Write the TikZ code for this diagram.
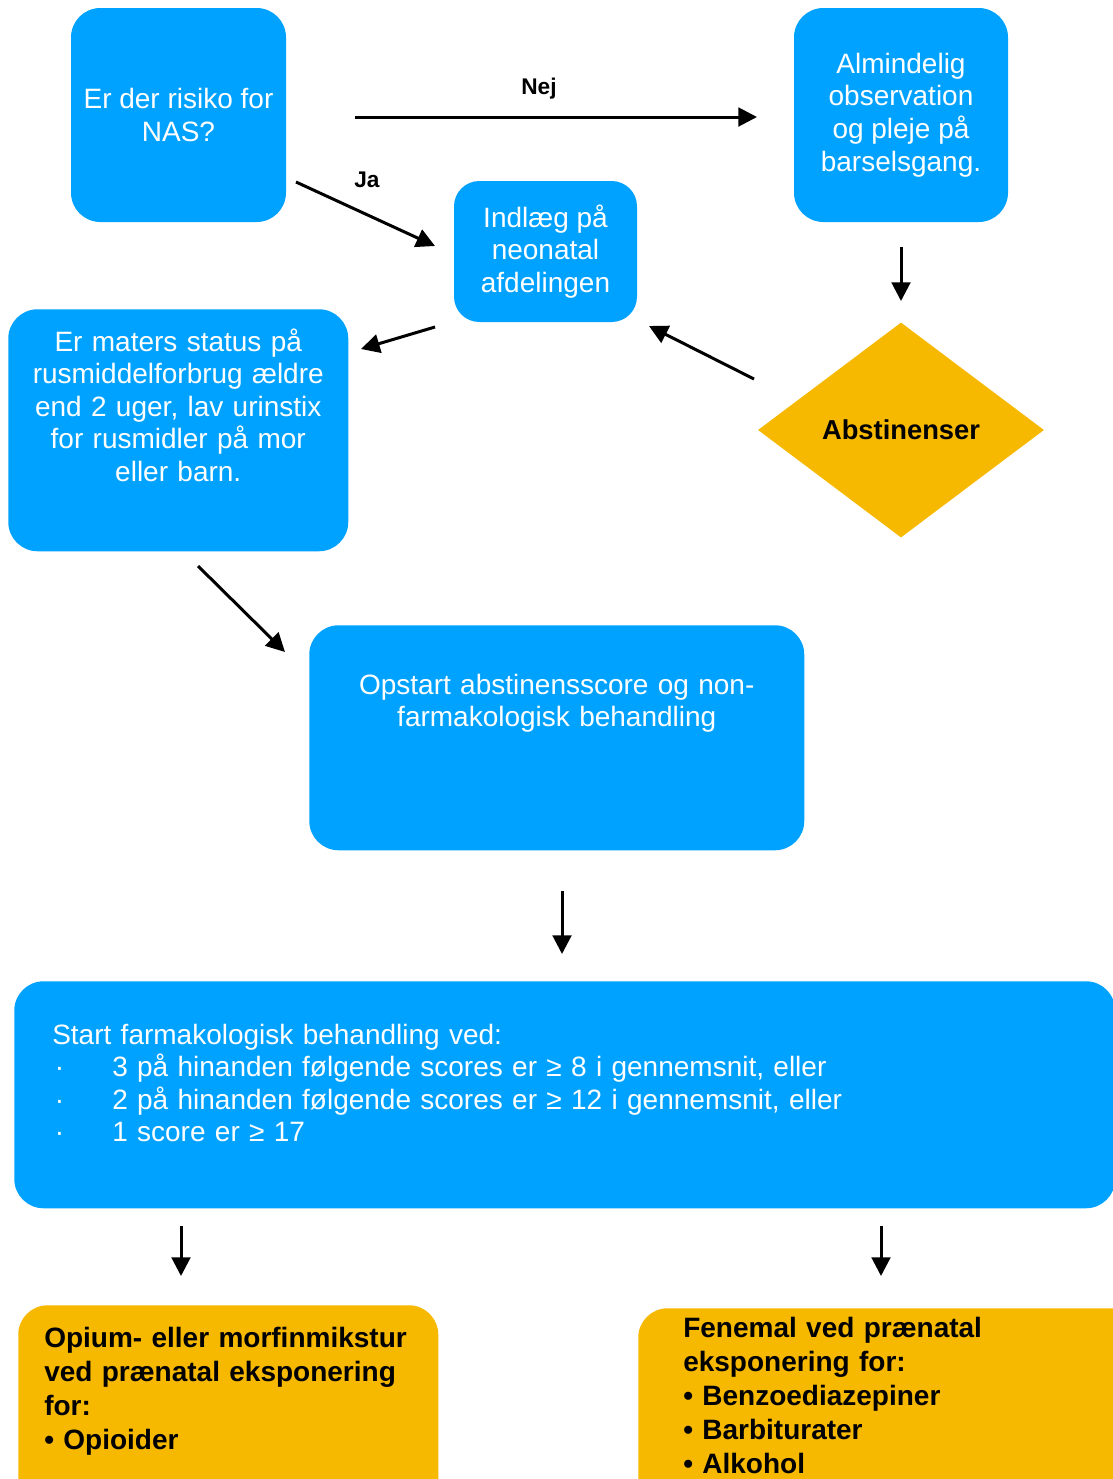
\documentclass[tikz,border=0pt]{standalone}
\usepackage{fontspec}
\setmainfont{Liberation Sans}
\usepackage{tikz}
\usetikzlibrary{shapes.geometric,arrows.meta}
\definecolor{nasblue}{HTML}{00A2FF}
\definecolor{nasorange}{HTML}{F6B900}

\begin{document}
\begin{tikzpicture}[x=0.75pt,y=-0.75pt,
    bluebox/.style={fill=nasblue, text=white, rounded corners=22pt, inner sep=0pt, font=\fontsize{21}{24.4}\selectfont},
    orangebox/.style={fill=nasorange, text=black, rounded corners=22pt, inner sep=0pt, font=\fontsize{21}{25.5}\selectfont\bfseries},
    arr/.style={line width=2.25pt, -{Triangle[length=14pt,width=14pt]}},
    lbl/.style={font=\fontsize{17}{20}\selectfont\bfseries}]
    \clip (0,0) rectangle (1113,1479);

    % Draw boxes
    \node[bluebox, minimum width=161.25pt, minimum height=160.5pt, align=center] (nas) at (178.5,115) {Er der risiko for\\NAS?};
    \node[bluebox, minimum width=160.5pt, minimum height=160.5pt, align=center] (alm) at (901,115) {Almindelig\\observation\\og pleje på\\barselsgang.};
    \node[bluebox, rounded corners=19pt, minimum width=137.25pt, minimum height=105.75pt, align=center] (indl) at (545.5,251.5) {Indlæg på\\neonatal\\afdelingen};
    \node[diamond, aspect=1.33, fill=nasorange, inner sep=0pt, minimum width=214.5pt, minimum height=161.25pt, font=\fontsize{20.5}{24}\selectfont\bfseries] (abst) at (901,430) {Abstinenser};
    \node[bluebox, anchor=north west, text width=255pt, align=center, text height=31.5pt, text depth=150pt] (rus) at (8,309) {Er maters status på\\rusmiddelforbrug ældre\\end 2 uger, lav urinstix\\for rusmidler på mor\\eller barn.};
    \node[bluebox, anchor=north west, text width=371.25pt, align=center, text height=51.75pt, text depth=117pt] (opst) at (309,625) {Opstart abstinensscore og non-\\farmakologisk behandling};
    \node[bluebox, anchor=north west, inner xsep=28.5pt, text width=768.75pt, align=left, text height=47.25pt, text depth=123pt] (start) at (14,981) {Start farmakologisk behandling ved:\\
        \hspace*{2pt}\makebox[43pt][l]{·}3 på hinanden følgende scores er ≥ 8 i gennemsnit, eller\\
        \hspace*{2pt}\makebox[43pt][l]{·}2 på hinanden følgende scores er ≥ 12 i gennemsnit, eller\\
        \hspace*{2pt}\makebox[43pt][l]{·}1 score er ≥ 17};

    % Draw treatment boxes
    \node[orangebox, anchor=north west, inner xsep=19.5pt, text width=276pt, align=left, text height=31.5pt, text depth=130pt] (opium) at (18,1305) {Opium- eller morfinmikstur\\ved prænatal eksponering\\for:\\• Opioider};
    \node[orangebox, anchor=north west, inner xsep=33.75pt, text width=309pt, align=left, text height=21.75pt, text depth=140pt] (fenemal) at (638,1308) {Fenemal ved prænatal\\eksponering for:\\• Benzoediazepiner\\• Barbiturater\\• Alkohol};

    % Arrow ends
    \coordinate (nej1) at (355,117);  \coordinate (nej2) at (757,117);
    \coordinate (ja1) at (296,182);   \coordinate (ja2) at (435,246);
    \coordinate (ind1) at (435,327);  \coordinate (ind2) at (361,349);
    \coordinate (alm1) at (901,247);  \coordinate (alm2) at (901,301);
    \coordinate (abs1) at (754,379);  \coordinate (abs2) at (649,326);
    \coordinate (rus1) at (198,566);  \coordinate (rus2) at (285,652);
    \coordinate (ops1) at (562,891);  \coordinate (ops2) at (562,954);
    \coordinate (opi1) at (181,1226); \coordinate (opi2) at (181,1276);
    \coordinate (fen1) at (881,1226); \coordinate (fen2) at (881,1276);

    % Draw arrows
    \draw[arr] (nej1) -- (nej2);
    \draw[arr] (ja1) -- (ja2);
    \draw[arr] (ind1) -- (ind2);
    \draw[arr] (alm1) -- (alm2);
    \draw[arr] (abs1) -- (abs2);
    \draw[arr] (rus1) -- (rus2);
    \draw[arr] (ops1) -- (ops2);
    \draw[arr] (opi1) -- (opi2);
    \draw[arr] (fen1) -- (fen2);

    % Draw labels
    \node[lbl] (nej) at (539,89) {Nej};
    \node[lbl] (ja) at (367,180) {Ja};
\end{tikzpicture}
\end{document}
